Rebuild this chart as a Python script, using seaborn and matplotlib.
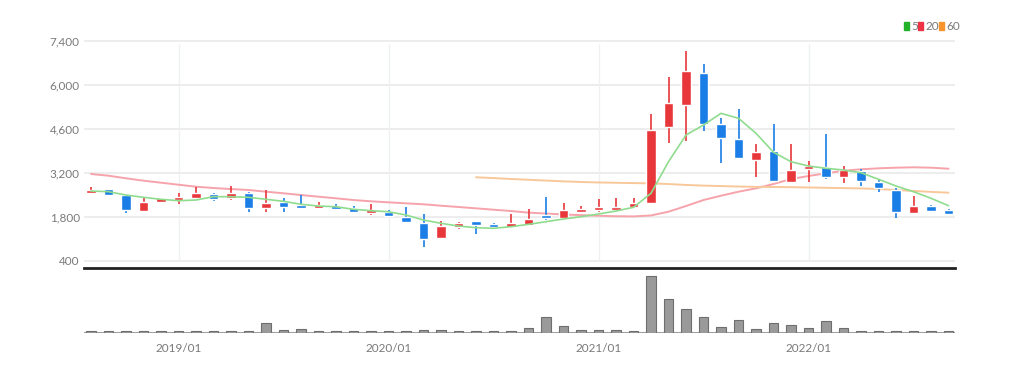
import numpy as np
import pandas as pd
import matplotlib
matplotlib.use("Agg")
import matplotlib.pyplot as plt
from matplotlib.patches import Rectangle
import seaborn as sns

# monthly candles 2018/08 .. 2022/09
months = pd.period_range("2018-08", "2022-09", freq="M").strftime("%Y/%m").tolist()

opens = [2545, 2672, 2490, 1981, 2277, 2322, 2395, 2522, 2385, 2565,
         2087, 2277, 2140, 2067, 2140, 2087, 1908, 1960, 1800, 1590,
         1113, 1482, 1590, 1560, 1482, 1536, 1800, 1750, 1950, 2013,
         2013, 2118, 2224, 4642, 5353, 6382, 4749, 4271, 3603, 3889,
         2892, 3317, 3380, 3052, 3264, 2914, 2649, 1917, 2140, 2001]
highs = [2740, 2690, 2500, 2386, 2406, 2545, 2735, 2565, 2777, 2598,
         2650, 2406, 2490, 2277, 2204, 2150, 2204, 2013, 2119, 1888,
         1652, 1620, 1600, 1590, 1888, 2035, 2415, 2226, 2140, 2373,
         2383, 2383, 5067, 6234, 7082, 6658, 4929, 5226, 4101, 4738,
         4101, 3571, 4420, 3412, 3306, 2960, 2700, 2458, 2180, 2030]
lows = [2510, 2490, 1908, 1960, 2245, 2213, 2375, 2300, 2340, 1960,
        1960, 1960, 2035, 2045, 2020, 1930, 1845, 1820, 1620, 826,
        1100, 1420, 1250, 1440, 1440, 1520, 1705, 1730, 1908, 1950,
        1990, 2087, 2190, 4133, 4218, 4537, 3518, 3650, 3052, 2914,
        2871, 2914, 2988, 2861, 2776, 2574, 1747, 1890, 1960, 1860]
closes = [2650, 2500, 2013, 2277, 2341, 2427, 2545, 2363, 2545, 2087,
          2226, 2099, 2067, 2140, 2035, 1940, 1960, 1832, 1641, 1081,
          1504, 1530, 1550, 1470, 1530, 1736, 1745, 2013, 2013, 2067,
          2087, 2236, 4558, 5406, 6446, 4749, 4292, 3677, 3847, 2935,
          3285, 3359, 3052, 3285, 2935, 2702, 1938, 2140, 1991, 1885]
volumes = [4, 4, 4, 4, 4, 4, 4, 4, 4, 4,
           28, 8, 11, 4, 4, 4, 6, 4, 4, 8,
           7, 4, 4, 4, 6, 13, 47, 19, 8, 8,
           8, 4, 167, 100, 69, 47, 16, 37, 12, 29,
           24, 13, 34, 13, 6, 4, 4, 4, 4, 4]

ma5 = [2618, 2596, 2490, 2417, 2354, 2309, 2331, 2437, 2437, 2417,
       2354, 2290, 2195, 2140, 2118, 2035, 1991, 1959, 1854, 1695,
       1590, 1504, 1450, 1431, 1482, 1558, 1641, 1727, 1800, 1886,
       1981, 2099, 2545, 3550, 4400, 4718, 5090, 4931, 4454, 3850,
       3550, 3413, 3340, 3286, 3200, 2990, 2777, 2596, 2386, 2150]
ma20 = [3159, 3105, 3022, 2946, 2882, 2818, 2755, 2713, 2681, 2650,
        2596, 2545, 2490, 2437, 2386, 2331, 2290, 2258, 2226, 2195,
        2150, 2109, 2067, 2023, 1981, 1930, 1900, 1870, 1850, 1830,
        1815, 1810, 1840, 1960, 2140, 2331, 2468, 2596, 2703, 2840,
        3000, 3095, 3181, 3264, 3308, 3340, 3360, 3372, 3360, 3327]
ma60 = [np.nan] * 22 + [3054, 3030, 3000, 2975, 2950, 2925, 2905, 2890,
                        2880, 2870, 2860, 2840, 2810, 2790, 2775, 2760,
                        2750, 2745, 2740, 2730, 2720, 2710, 2700, 2680,
                        2650, 2620, 2590, 2565]

xtick_months = ["2019/01", "2020/01", "2021/01", "2022/01"]
ytick_vals = [400, 1800, 3200, 4600, 6000, 7400]

df = pd.DataFrame({"month": months, "open": opens, "high": highs, "low": lows,
                   "close": closes, "vol": volumes,
                   "ma5": ma5, "ma20": ma20, "ma60": ma60})
df["i"] = np.arange(len(df))

sns.set_style("white")
plt.rcParams["font.family"] = ["Lato", "DejaVu Sans"]

RED = "#e8373b"
BLUE = "#1a7ee6"
GREY_TXT = "#7a7a7a"
W, H = 1016, 373

fig = plt.figure(figsize=(W / 100, H / 100), dpi=100)
ax = fig.add_axes([84 / W, 1 - 268 / H, (955 - 84) / W, (268 - 30) / H])
axv = fig.add_axes([84 / W, 1 - 333 / H, (955 - 84) / W, (333 - 270) / H])

# price panel
for v in ytick_vals:
    ax.axhline(v, color="#ececec", lw=1.3, zorder=0)
xt = [df.index[df.month == m][0] for m in xtick_months]
ax.vlines(xt, 400, 7300, color="#eef0f3", lw=1, zorder=0)

up = df.close >= df.open
colors = np.where(up, RED, BLUE)
ax.vlines(df.i, df.low, df.high, colors=colors, lw=1.2, zorder=3)
body = (df.close - df.open).abs().clip(lower=110)
ax.bar(df.i, body, bottom=np.minimum(df.open, df.close), width=0.52,
       color=colors, zorder=4)

sns.lineplot(data=df, x="i", y="ma5", color="#8fdc8f", lw=1.2, ax=ax, zorder=5)
sns.lineplot(data=df, x="i", y="ma20", color="#f6a3ab", lw=1.4, ax=ax, zorder=2)
sns.lineplot(data=df, x="i", y="ma60", color="#f8c89a", lw=1.4, ax=ax, zorder=2)

ax.set_xlim(-0.4, 49.37)
ax.set_ylim(168, 7741)
ax.set_yticks(ytick_vals)
ax.set_yticklabels([f"{v:,}" for v in ytick_vals])
ax.tick_params(axis="y", length=0, pad=3, labelsize=8.5, labelcolor=GREY_TXT)
ax.set_xticks([])
ax.set_xlabel("")
ax.set_ylabel("")
for s in ["top", "right", "left"]:
    ax.spines[s].set_visible(False)
ax.spines["bottom"].set_color("#222222")
ax.spines["bottom"].set_linewidth(2)

# volume panel
axv.axhline(0, color="#a0a0a0", lw=2.2, zorder=1)
sns.barplot(data=df, x="i", y="vol", native_scale=True, color="#9a9a9a",
            width=0.52, edgecolor="#6e6e6e", linewidth=0.8, ax=axv, zorder=3)
axv.set_xlim(-0.4, 49.37)
axv.set_ylim(-1, 186)
axv.set_yticks([])
axv.set_xticks(xt)
axv.set_xticklabels(xtick_months)
axv.tick_params(axis="x", length=4, width=1, color="#555555", pad=3,
                labelsize=8.5, labelcolor=GREY_TXT)
axv.set_xlabel("")
axv.set_ylabel("")
for s in axv.spines.values():
    s.set_visible(False)

# legend: small coloured squares + grey labels
legend_items = [("5", "#22b22a", 904), ("20", "#ee3344", 918), ("60", "#f7942e", 939)]
for lab, c, x in legend_items:
    fig.patches.append(Rectangle((x / W, 1 - 30 / H), 5 / W, 8 / H,
                                 transform=fig.transFigure, color=c))
    fig.text((x + 7) / W, 1 - 26 / H, lab, color=GREY_TXT, fontsize=8.5,
             va="center")

fig.savefig("out.png", dpi=100)
